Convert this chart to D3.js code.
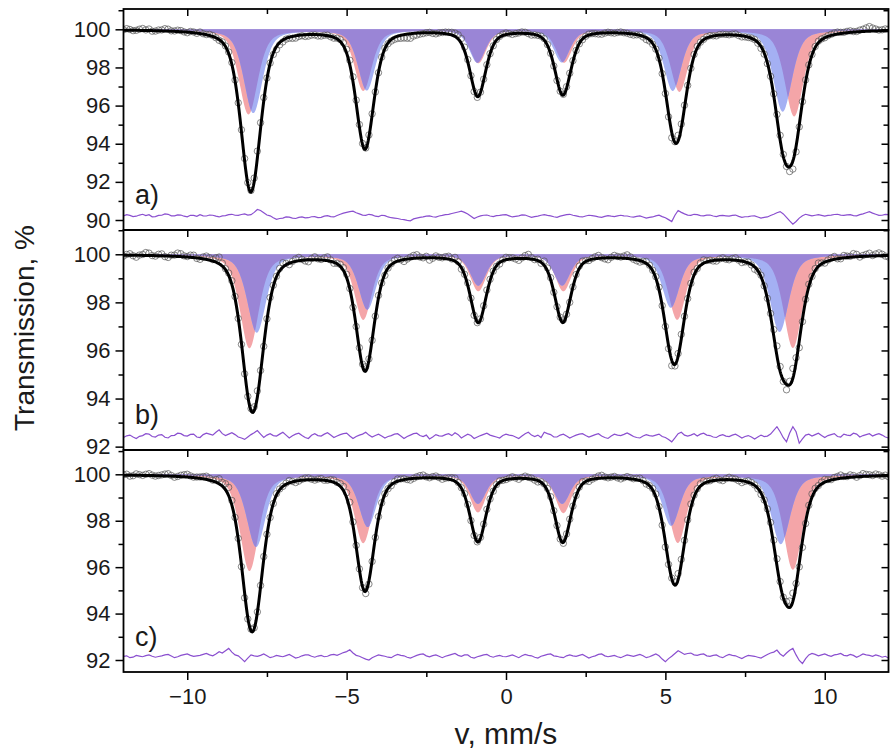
<!DOCTYPE html>
<html>
<head>
<meta charset="utf-8">
<script src="https://cdn.jsdelivr.net/npm/d3@7"></script>
<style>
  body { margin: 0; background: #fff; }
  svg { display: block; font-family: 'Liberation Sans', Arial, sans-serif; }
</style>
</head>
<body>
<svg id="spectraSvg" width="891" height="753"></svg>
<script>
// ---- data ----
const vRange = [-12, 12];
const vStep = 0.1;
const xTickLabels = [-10, -5, 0, 5, 10];
const panelLabels = ['a)', 'b)', 'c)'];
const yTicksA = [90, 92, 94, 96, 98, 100];
const yTicksBC = [92, 94, 96, 98, 100];

// sextet line widths (FWHM, mm/s), lines 1..6, and Lorentzian fraction of the line shape
const lineWidth = [0.70, 0.65, 0.60, 0.60, 0.65, 0.70];
const lorentzFrac = 0.5;

// red / blue sub-spectra: line positions (mm/s) and depths (%)
const redPosA   = [-8.08, -4.48, -0.87, 1.82, 5.44, 9.04];
const redDepA   = [4.45, 3.20, 1.75, 1.72, 3.25, 4.55];
const bluePosA  = [-7.93, -4.37, -0.90, 1.75, 5.23, 8.68];
const blueDepA  = [4.38, 3.18, 1.72, 1.70, 3.20, 4.30];

const redPosB   = [-8.05, -4.48, -0.87, 1.80, 5.37, 9.00];
const redDepB   = [3.90, 2.70, 1.51, 1.51, 2.70, 3.88];
const bluePosB  = [-7.82, -4.35, -0.87, 1.76, 5.17, 8.58];
const blueDepB  = [3.25, 2.28, 1.28, 1.28, 2.20, 3.22];

const redPosC   = [-8.05, -4.48, -0.88, 1.80, 5.39, 9.00];
const redDepC   = [4.15, 2.94, 1.61, 1.64, 2.93, 4.10];
const bluePosC  = [-7.84, -4.34, -0.88, 1.76, 5.18, 8.62];
const blueDepC  = [3.12, 2.25, 1.25, 1.25, 2.20, 3.00];

// residuals (data - fit, %), channels from -12 to 12 mm/s every 0.1 (one row = 2 mm/s)
const resA = [
  0.02, 0.08, 0.04, -0.02, 0.00, 0.06, 0.10, 0.03, 0.08, -0.03, -0.02, 0.04, 0.05, 0.12, 0.10, 0.02, 0.02, 0.07, 0.06, 0.00,
  -0.03, 0.05, 0.04, -0.01, 0.08, 0.02, 0.01, 0.06, 0.05, 0.00, -0.04, 0.02, 0.03, 0.08, 0.10, 0.05, 0.04, 0.09, 0.12, 0.06,
  0.08, 0.20, 0.35, 0.30, 0.18, 0.06, 0.02, -0.08, -0.16, -0.12, -0.10, -0.04, -0.05, -0.10, -0.12, -0.06, -0.04, -0.09, -0.08, -0.03,
  -0.02, -0.07, -0.06, 0.00, 0.03, -0.02, -0.04, 0.04, 0.10, 0.16, 0.20, 0.24, 0.26, 0.18, 0.12, 0.06, 0.04, 0.10, 0.07, 0.00,
  -0.02, 0.05, 0.03, -0.04, -0.08, -0.10, -0.12, -0.16, -0.18, -0.22, -0.24, -0.14, -0.10, -0.06, -0.04, 0.00, 0.02, -0.03, -0.05, 0.01,
  0.04, 0.08, 0.10, 0.14, 0.18, 0.22, 0.26, 0.20, 0.12, 0.00, -0.12, -0.04, 0.02, 0.05, 0.06, 0.01, -0.02, 0.03, 0.04, 0.07,
  0.08, 0.02, -0.04, -0.01, 0.02, 0.07, 0.06, 0.00, -0.06, -0.02, 0.00, 0.05, 0.08, 0.04, 0.02, -0.03, -0.06, 0.00, 0.04, 0.08,
  0.10, 0.05, 0.02, -0.02, -0.04, 0.01, 0.05, 0.03, 0.00, -0.04, -0.06, -0.01, 0.03, 0.00, -0.02, 0.02, 0.05, 0.02, 0.01, -0.03,
  -0.05, -0.01, 0.02, -0.04, -0.10, -0.06, -0.04, 0.02, 0.05, -0.02, -0.08, -0.18, -0.28, 0.05, 0.30, 0.20, 0.12, 0.06, 0.04, 0.10,
  0.08, 0.03, 0.02, 0.06, 0.06, 0.01, -0.02, 0.03, 0.04, 0.02, 0.00, 0.04, 0.06, -0.01, -0.06, -0.03, -0.02, 0.01, 0.02, -0.04,
  -0.10, -0.06, -0.04, 0.04, 0.10, 0.18, 0.24, 0.12, -0.06, -0.25, -0.42, -0.28, -0.10, 0.02, 0.10, 0.06, 0.02, 0.05, 0.08, 0.04,
  0.00, 0.04, 0.06, 0.09, 0.10, 0.06, 0.04, 0.07, 0.08, 0.03, 0.02, 0.08, 0.12, 0.18, 0.24, 0.16, 0.10, 0.04, 0.05, 0.09,
  0.08
];
const resB = [
  -0.04, 0.03, 0.06, -0.02, -0.08, 0.01, 0.04, 0.12, 0.10, 0.00, -0.02, 0.06, 0.08, -0.03, -0.06, 0.04, 0.05, 0.14, 0.12, 0.04,
  0.02, 0.09, 0.10, -0.02, -0.04, 0.08, 0.14, 0.10, 0.06, 0.18, 0.28, 0.12, 0.04, 0.10, 0.16, 0.08, -0.02, -0.06, -0.12, -0.02,
  0.08, 0.16, 0.25, 0.10, -0.04, 0.06, 0.12, 0.04, 0.02, 0.10, 0.18, 0.06, -0.06, 0.03, 0.10, 0.14, 0.04, -0.04, -0.08, 0.05,
  0.12, 0.04, 0.02, 0.10, 0.16, 0.06, -0.04, 0.02, 0.08, 0.12, 0.14, 0.02, -0.08, 0.00, 0.06, 0.10, 0.18, 0.06, -0.02, 0.04,
  0.10, 0.02, -0.06, 0.00, 0.04, 0.10, 0.12, 0.02, -0.08, 0.00, 0.06, 0.12, 0.14, 0.04, 0.00, 0.06, -0.10, -0.02, 0.08, 0.03,
  0.02, 0.08, 0.12, 0.04, 0.16, 0.08, -0.06, 0.02, 0.10, 0.04, -0.08, -0.02, 0.04, 0.09, 0.14, 0.06, 0.02, -0.02, -0.06, 0.04,
  0.10, 0.06, 0.04, -0.02, -0.08, 0.02, 0.12, 0.18, 0.06, 0.00, 0.06, -0.04, 0.18, 0.12, 0.08, -0.02, -0.02, 0.06, 0.10, 0.02,
  -0.06, 0.00, 0.06, 0.10, 0.12, 0.04, -0.02, 0.03, 0.08, 0.12, 0.02, -0.04, -0.08, 0.02, 0.10, 0.06, 0.04, 0.09, 0.15, 0.08,
  0.00, -0.04, -0.06, 0.02, 0.08, 0.04, 0.02, 0.06, 0.10, 0.00, -0.04, -0.12, -0.22, -0.06, 0.12, 0.18, 0.06, 0.02, 0.06, 0.12,
  0.02, 0.10, 0.14, 0.06, 0.04, -0.02, -0.04, 0.04, 0.08, 0.02, 0.00, 0.06, 0.10, 0.02, -0.06, 0.00, 0.04, -0.02, -0.10, -0.02,
  0.06, 0.00, 0.02, 0.10, 0.26, 0.41, 0.20, -0.05, -0.22, 0.15, 0.41, 0.20, -0.28, -0.10, 0.06, 0.10, 0.02, 0.08, 0.14, 0.04,
  -0.04, 0.04, 0.08, 0.12, 0.00, -0.02, 0.10, 0.06, 0.04, 0.14, 0.10, -0.02, 0.04, 0.08, 0.12, 0.02, 0.08, 0.12, 0.06, -0.02,
  -0.06
];
const resC = [
  0.02, 0.04, -0.04, -0.02, 0.06, 0.03, 0.00, 0.05, 0.08, 0.02, -0.02, 0.01, 0.04, 0.08, 0.10, 0.03, -0.04, 0.00, 0.06, 0.09,
  0.12, 0.06, 0.02, 0.04, 0.06, 0.10, 0.14, 0.08, 0.04, 0.12, 0.22, 0.16, 0.26, 0.36, 0.20, 0.08, 0.04, -0.08, -0.21, -0.06,
  0.08, 0.04, 0.02, 0.06, 0.12, 0.04, -0.04, 0.00, 0.06, 0.03, 0.00, 0.05, 0.10, 0.02, -0.06, -0.02, 0.04, 0.08, 0.08, 0.02,
  -0.02, 0.03, 0.06, 0.00, 0.02, 0.08, 0.10, 0.06, 0.12, 0.18, 0.22, 0.30, 0.16, 0.06, 0.02, -0.04, -0.10, -0.14, -0.04, 0.02,
  0.08, 0.05, 0.02, -0.02, -0.04, 0.04, 0.10, 0.06, 0.04, -0.02, -0.06, 0.00, 0.06, 0.10, 0.12, 0.04, 0.00, 0.05, 0.08, 0.02,
  -0.04, 0.02, 0.06, 0.10, 0.14, 0.06, 0.02, 0.08, 0.08, -0.02, -0.06, 0.00, 0.04, 0.08, 0.10, 0.02, -0.02, 0.03, 0.06, 0.01,
  0.00, 0.04, 0.08, 0.02, -0.04, 0.04, 0.10, 0.06, 0.04, -0.02, -0.06, 0.02, 0.06, 0.10, 0.12, 0.04, 0.02, -0.02, -0.04, 0.04,
  0.08, 0.04, 0.02, 0.06, 0.10, 0.02, -0.06, 0.00, 0.04, 0.10, 0.12, 0.04, 0.00, 0.03, 0.06, 0.00, -0.04, 0.02, 0.08, 0.05,
  0.02, 0.06, 0.10, 0.04, -0.04, 0.00, 0.06, 0.12, 0.04, -0.10, -0.21, -0.08, 0.02, 0.14, 0.26, 0.18, 0.10, 0.14, 0.16, 0.08,
  0.06, 0.10, 0.12, 0.04, 0.02, 0.06, 0.08, 0.00, -0.04, 0.04, 0.10, 0.06, 0.04, -0.02, -0.08, 0.00, 0.06, 0.04, 0.02, -0.02,
  -0.06, 0.02, 0.10, 0.16, 0.20, 0.29, 0.12, 0.02, 0.16, 0.28, 0.36, 0.08, -0.16, -0.29, -0.08, 0.08, 0.14, 0.10, 0.04, 0.08,
  0.12, 0.06, 0.02, 0.08, 0.10, 0.14, 0.06, 0.04, 0.10, 0.06, -0.02, 0.04, 0.12, 0.08, 0.06, 0.02, 0.08, 0.04, -0.02, 0.02,
  -0.05
];
// level at which each residual trace is drawn
const resLevel = [90.2, 92.42, 92.14];

// ---- layout ----
const svg = d3.select('#spectraSvg');
const plotLeft = 123.5, plotRight = 888.5;
const fontFam = "'Liberation Sans', Arial, sans-serif";

const panels = [
  { top: 9,   bottom: 230, domain: [89.476, 101.065], ticks: yTicksA,  label: panelLabels[0],
    red: [redPosA, redDepA], blue: [bluePosA, blueDepA], res: resA, level: resLevel[0] },
  { top: 230, bottom: 450, domain: [91.86, 101.01],   ticks: yTicksBC, label: panelLabels[1],
    red: [redPosB, redDepB], blue: [bluePosB, blueDepB], res: resB, level: resLevel[1] },
  { top: 450, bottom: 672, domain: [91.483, 101.047], ticks: yTicksBC, label: panelLabels[2],
    red: [redPosC, redDepC], blue: [bluePosC, blueDepC], res: resC, level: resLevel[2] }
];

const xScale = d3.scaleLinear().domain(vRange).range([plotLeft, plotRight]);

// pseudo-Voigt sextet, absorption in %
function absorb(v, pos, dep) {
  let s = 0;
  for (let i = 0; i < pos.length; i++) {
    const u = (v - pos[i]) / lineWidth[i];
    const lor = 1 / (1 + 4 * u * u);
    const gau = Math.exp(-4 * Math.LN2 * u * u);
    s += dep[i] * (lorentzFrac * lor + (1 - lorentzFrac) * gau);
  }
  return s;
}

const fine = d3.range(vRange[0], vRange[1] + 1e-9, 0.02);
const channels = d3.range(0, resA.length).map(i => vRange[0] + i * vStep);

const minorX = [-7.5, -2.5, 2.5, 7.5];

panels.forEach((p, k) => {
  const yScale = d3.scaleLinear().domain(p.domain).range([p.bottom, p.top]);
  const g = svg.append('g');

  const clipId = 'clip' + k;
  svg.append('clipPath').attr('id', clipId)
    .append('rect')
    .attr('x', plotLeft).attr('y', p.top)
    .attr('width', plotRight - plotLeft).attr('height', p.bottom - p.top);

  const body = g.append('g').attr('clip-path', `url(#${clipId})`);

  const redT = v => 100 - absorb(v, p.red[0], p.red[1]);
  const blueT = v => 100 - absorb(v, p.blue[0], p.blue[1]);
  const fitT = v => 100 - absorb(v, p.red[0], p.red[1]) - absorb(v, p.blue[0], p.blue[1]);

  const area = f => d3.area()
    .x(v => xScale(v))
    .y0(yScale(100))
    .y1(v => yScale(f(v)));

  body.append('path').datum(fine).attr('d', area(redT)).attr('fill', '#f4a5a8');
  body.append('path').datum(fine).attr('d', area(blueT)).attr('fill', '#a4b0f3');
  body.append('path').datum(fine).attr('d', area(v => Math.max(redT(v), blueT(v))))
    .attr('fill', '#9a85d6');

  // experimental points
  body.selectAll('circle.pt')
    .data(channels)
    .enter()
    .append('circle')
    .attr('class', 'pt')
    .attr('cx', v => xScale(v))
    .attr('cy', (v, i) => yScale(fitT(v) + p.res[i]))
    .attr('r', 3.2)
    .attr('fill', 'none')
    .attr('stroke', '#555')
    .attr('stroke-width', 0.7);

  // fit
  body.append('path').datum(fine)
    .attr('d', d3.line().x(v => xScale(v)).y(v => yScale(fitT(v))))
    .attr('fill', 'none')
    .attr('stroke', '#000')
    .attr('stroke-width', 3);

  // residual
  body.append('path').datum(channels)
    .attr('d', d3.line().x(v => xScale(v)).y((v, i) => yScale(p.level + p.res[i])))
    .attr('fill', 'none')
    .attr('stroke', '#8a4fcf')
    .attr('stroke-width', 1.2);

  // left axis: labelled majors, outward minors
  const minorY = d3.range(Math.ceil(p.domain[0]), Math.floor(p.domain[1]) + 1)
    .filter(v => p.ticks.indexOf(v) < 0);

  const gLeft = g.append('g')
    .attr('transform', `translate(${plotLeft},0)`)
    .call(d3.axisLeft(yScale).tickValues(p.ticks).tickSize(8).tickPadding(5).tickFormat(d3.format('d')));
  gLeft.attr('font-size', 22).attr('font-family', fontFam);
  gLeft.selectAll('text').attr('fill', '#1a1a1a');
  gLeft.select('.domain').remove();

  g.append('g')
    .attr('transform', `translate(${plotLeft},0)`)
    .call(d3.axisLeft(yScale).tickValues(minorY).tickSize(5).tickFormat(''))
    .select('.domain').remove();

  // right axis: inward ticks
  g.append('g')
    .attr('transform', `translate(${plotRight},0)`)
    .call(d3.axisRight(yScale).tickValues(p.ticks).tickSize(-7).tickFormat(''))
    .select('.domain').remove();
  g.append('g')
    .attr('transform', `translate(${plotRight},0)`)
    .call(d3.axisRight(yScale).tickValues(minorY).tickSize(-5).tickFormat(''))
    .select('.domain').remove();

  // top axis: inward ticks
  g.append('g')
    .attr('transform', `translate(0,${p.top})`)
    .call(d3.axisTop(xScale).tickValues(xTickLabels).tickSize(-7).tickFormat(''))
    .select('.domain').remove();
  g.append('g')
    .attr('transform', `translate(0,${p.top})`)
    .call(d3.axisTop(xScale).tickValues(minorX).tickSize(-5).tickFormat(''))
    .select('.domain').remove();

  // frame
  g.append('rect')
    .attr('x', plotLeft).attr('y', p.top)
    .attr('width', plotRight - plotLeft).attr('height', p.bottom - p.top)
    .attr('fill', 'none').attr('stroke', '#000').attr('stroke-width', 1.8);

  g.selectAll('.tick line').attr('stroke', '#000').attr('stroke-width', 1.5);

  // panel label
  g.append('text')
    .attr('x', 135)
    .attr('y', p.bottom - 26)
    .attr('font-size', 27)
    .attr('font-family', fontFam)
    .attr('fill', '#1a1a1a')
    .text(p.label);

  // bottom axis with labels on the last panel
  if (k === panels.length - 1) {
    const gX = g.append('g')
      .attr('transform', `translate(0,${p.bottom})`)
      .call(d3.axisBottom(xScale).tickValues(xTickLabels).tickSize(8).tickPadding(8));
    gX.attr('font-size', 22).attr('font-family', fontFam);
    gX.selectAll('text').attr('fill', '#1a1a1a');
    gX.select('.domain').remove();
    gX.selectAll('.tick line').attr('stroke', '#000').attr('stroke-width', 1.5);
    const gXm = g.append('g')
      .attr('transform', `translate(0,${p.bottom})`)
      .call(d3.axisBottom(xScale).tickValues(minorX).tickSize(5).tickFormat(''));
    gXm.select('.domain').remove();
    gXm.selectAll('.tick line').attr('stroke', '#000').attr('stroke-width', 1.5);
  }
});

// axis titles
svg.append('text')
  .attr('transform', 'translate(34,328) rotate(-90)')
  .attr('text-anchor', 'middle')
  .attr('font-size', 28)
  .attr('font-family', fontFam)
  .attr('fill', '#1a1a1a')
  .text('Transmission, %');

svg.append('text')
  .attr('x', 506)
  .attr('y', 744)
  .attr('text-anchor', 'middle')
  .attr('font-size', 30)
  .attr('font-family', fontFam)
  .attr('fill', '#1a1a1a')
  .text('v, mm/s');
</script>
</body>
</html>
